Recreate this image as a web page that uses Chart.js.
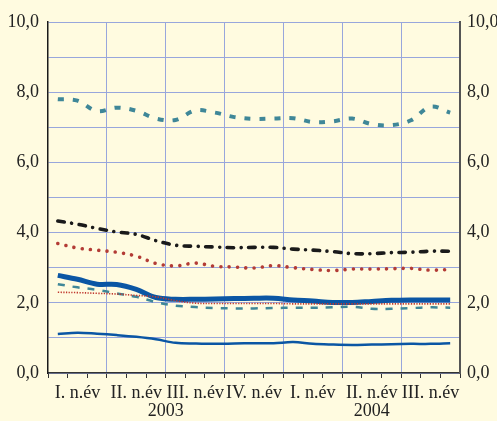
<!DOCTYPE html>
<html>
<head>
<meta charset="utf-8">
<script src="https://cdn.jsdelivr.net/npm/chart.js@4"></script>
<style>
    html, body { margin: 0; padding: 0; background: #fffbe0; }
    #wrap { width: 497px; height: 421px; position: relative; }
</style>
</head>
<body>
<div id="wrap"><canvas id="myChart"></canvas></div>
<script>
const months = [
    '2003-01', '2003-02', '2003-03', '2003-04', '2003-05', '2003-06',
    '2003-07', '2003-08', '2003-09', '2003-10', '2003-11', '2003-12',
    '2004-01', '2004-02', '2004-03', '2004-04', '2004-05', '2004-06',
    '2004-07', '2004-08', '2004-09'
];
const quarterLabels = ['I. n.év', 'II. n.év', 'III. n.év', 'IV. n.év', 'I. n.év', 'II. n.év', 'III. n.év'];
const years = ['2003', '2004'];
const yTicks = [0, 2, 4, 6, 8, 10];

const tealTop = [7.80, 7.76, 7.46, 7.56, 7.47, 7.25, 7.21, 7.48, 7.42, 7.29, 7.24, 7.25, 7.26, 7.15, 7.17, 7.25, 7.09, 7.06, 7.20, 7.59, 7.42];
const blackDashDot = [4.33, 4.24, 4.12, 4.02, 3.95, 3.77, 3.64, 3.61, 3.59, 3.57, 3.58, 3.58, 3.53, 3.50, 3.46, 3.40, 3.40, 3.43, 3.44, 3.47, 3.47];
const redDots = [3.69, 3.56, 3.50, 3.44, 3.33, 3.12, 3.05, 3.13, 3.04, 3.02, 2.99, 3.06, 3.00, 2.95, 2.92, 2.96, 2.96, 2.97, 2.98, 2.93, 2.95];
const blueThick = [2.78, 2.67, 2.53, 2.52, 2.38, 2.15, 2.10, 2.10, 2.11, 2.12, 2.13, 2.13, 2.08, 2.05, 2.01, 2.01, 2.04, 2.07, 2.08, 2.08, 2.08];
const tealLow = [2.53, 2.44, 2.37, 2.27, 2.17, 2.02, 1.92, 1.88, 1.85, 1.84, 1.84, 1.85, 1.86, 1.86, 1.87, 1.89, 1.83, 1.83, 1.85, 1.87, 1.86];
const redThin = [2.30, 2.29, 2.27, 2.25, 2.21, 2.17, 2.06, 1.99, 1.98, 1.98, 1.98, 1.98, 1.97, 1.97, 1.97, 1.97, 1.97, 1.97, 1.97, 1.97, 1.97];
const blueThin = [1.11, 1.15, 1.12, 1.08, 1.03, 0.96, 0.86, 0.84, 0.83, 0.84, 0.85, 0.85, 0.88, 0.83, 0.81, 0.80, 0.81, 0.82, 0.83, 0.83, 0.85];

const BG = '#fffbe0';
const GRID = '#98a6dc';
const TEAL = '#3f8798';
const RED = '#b33b35';
const BLUE = '#0b56a4';
const FONT = { family: '"Liberation Serif", "DejaVu Serif", serif', size: 18 };

const fmt = v => v.toFixed(1).replace('.', ',');

// page background + year labels under the quarters
const extras = {
    id: 'extras',
    beforeDraw(chart) {
        const c = chart.ctx;
        c.save();
        c.fillStyle = BG;
        c.fillRect(0, 0, chart.width, chart.height);
        c.restore();
    },
    afterDraw(chart) {
        const x = chart.scales.x;
        const c = chart.ctx;
        c.save();
        c.font = FONT.size + 'px ' + FONT.family;
        c.fillStyle = '#222';
        c.textAlign = 'center';
        c.textBaseline = 'middle';
        years.forEach((y, k) => {
            const a = x.getPixelForValue(k * 12);
            const b = x.getPixelForValue(Math.min(k * 12 + 11, months.length - 1));
            c.fillText(y, (a + b) / 2, x.bottom - 10);
        });
        c.restore();
    }
};

const line = (data, color, width, dash, cap) => ({
    data: data,
    borderColor: color,
    borderWidth: width,
    borderDash: dash,
    borderCapStyle: cap || 'butt',
    pointRadius: 0,
    fill: false,
    tension: 0.35
});

const ctx = document.getElementById('myChart').getContext('2d');
new Chart(ctx, {
    type: 'line',
    data: {
        labels: months,
        datasets: [
            line(redThin, '#c0392f', 1.6, [1.3, 1.4]),
            line(blueThick, BLUE, 5, []),
            line(tealLow, TEAL, 2.5, [7, 8]),
            line(blueThin, BLUE, 2.5, []),
            line(redDots, RED, 3.6, [0.01, 8.3], 'round'),
            line(blackDashDot, '#1a1a1a', 3.6, [6.5, 7.5, 0.01, 7.5], 'round'),
            line(tealTop, TEAL, 4, [6, 9])
        ]
    },
    plugins: [extras],
    options: {
        responsive: true,
        maintainAspectRatio: false,
        animation: false,
        layout: { padding: { top: 22, left: 0, right: 0, bottom: 0 } },
        plugins: {
            legend: { display: false },
            tooltip: { enabled: false }
        },
        scales: {
            x: {
                offset: true,
                grid: {
                    offset: true,
                    color: c => (c.index % 3 === 0 && c.index > 0 && c.index < months.length) ? GRID : 'rgba(0,0,0,0)',
                    tickColor: '#333',
                    tickLength: 5,
                    lineWidth: 1
                },
                border: { color: '#333', width: 1.5 },
                ticks: {
                    autoSkip: false,
                    maxRotation: 0,
                    padding: 4,
                    color: '#222',
                    font: FONT,
                    callback: (v, i) => i % 3 === 1 ? quarterLabels[Math.floor(i / 3)] : ''
                },
                afterFit: s => { s.height = 48; }
            },
            y: {
                position: 'left',
                min: 0,
                max: 10,
                grid: { color: GRID, lineWidth: 1, drawTicks: false },
                border: { color: '#1a1a1a', width: 1.5 },
                ticks: {
                    stepSize: 1,
                    padding: 9,
                    color: '#222',
                    font: FONT,
                    callback: v => yTicks.includes(v) ? fmt(v) : ''
                },
                afterFit: s => { s.width = 48; }
            },
            y2: {
                position: 'right',
                min: 0,
                max: 10,
                grid: { drawOnChartArea: false, drawTicks: false },
                border: { color: '#555', width: 2 },
                ticks: {
                    stepSize: 1,
                    padding: 7,
                    color: '#222',
                    font: FONT,
                    callback: v => yTicks.includes(v) ? fmt(v) : ''
                },
                afterFit: s => { s.width = 37; }
            }
        }
    }
});
</script>
</body>
</html>
